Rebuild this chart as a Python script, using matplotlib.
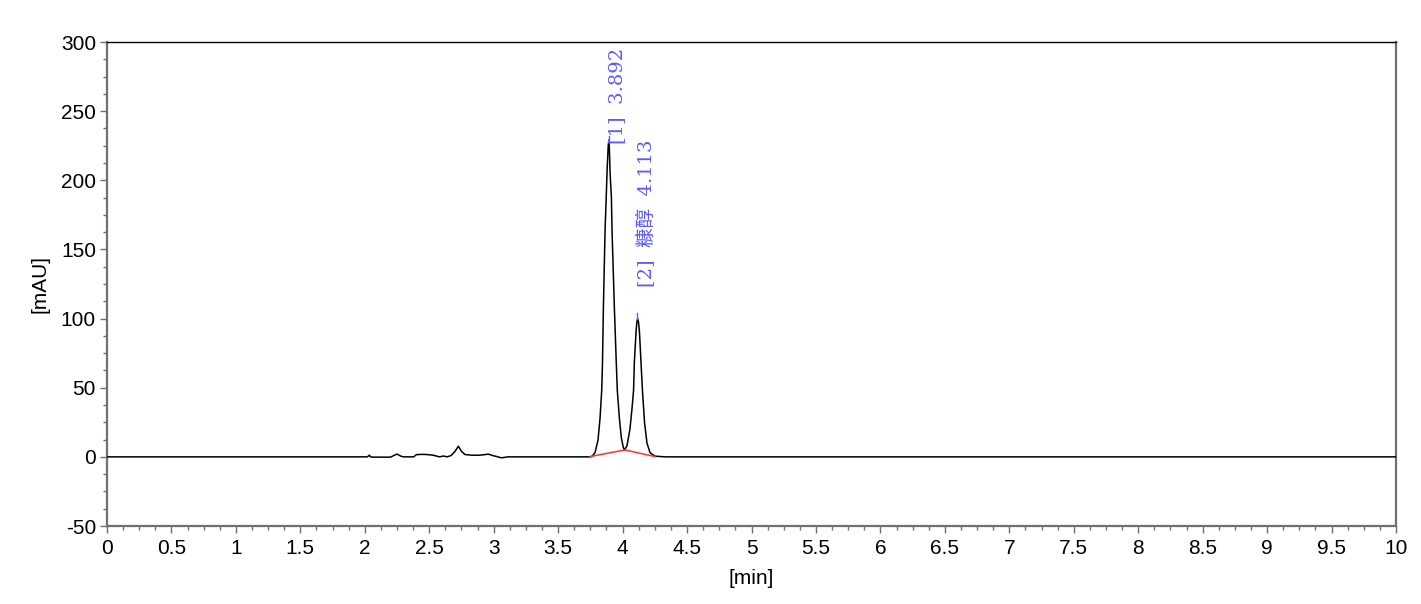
import matplotlib
matplotlib.use("Agg")
import matplotlib.pyplot as plt
from matplotlib.ticker import MultipleLocator

# ---- data ----
time_min = [0.0, 2.02, 2.035, 2.045, 2.06, 2.2, 2.23, 2.25, 2.28, 2.30, 2.38, 2.40,
            2.44, 2.48, 2.53, 2.58, 2.61, 2.64, 2.67, 2.70, 2.726, 2.75, 2.777,
            2.83, 2.89, 2.93, 2.958, 2.99, 3.02, 3.06, 3.11, 3.75, 3.763, 3.786,
            3.809, 3.825, 3.838, 3.844, 3.851, 3.864, 3.872, 3.880, 3.888, 3.892,
            3.897, 3.903, 3.913, 3.918, 3.936, 3.951, 3.959, 3.975, 3.990, 4.005,
            4.015, 4.034, 4.057, 4.073, 4.085, 4.091, 4.104, 4.110, 4.117, 4.124,
            4.131, 4.143, 4.154, 4.170, 4.189, 4.213, 4.251, 4.33, 10.0]
signal_mau = [0.0, 0.0, 1.2, 0.0, -0.2, -0.2, 1.2, 2.0, 0.5, 0.0, 0.0, 1.6,
              1.8, 1.7, 1.2, 0.0, 0.6, 0.0, 1.0, 4.0, 7.7, 4.0, 1.7,
              1.2, 1.2, 1.6, 2.0, 1.0, 0.3, -0.7, 0.0, 0.0, 0.4, 3.0,
              12.0, 28.0, 48.0, 68.0, 108.0, 164.0, 185.0, 208.0, 224.0, 228.0,
              224.0, 205.0, 188.0, 164.0, 108.0, 68.0, 48.0, 28.0, 14.0, 7.0,
              5.0, 8.0, 20.0, 35.0, 48.0, 68.0, 90.0, 97.0, 100.0, 97.0,
              90.0, 68.0, 48.0, 25.0, 10.0, 3.0, 0.5, 0.0, 0.0]

baseline_time = [3.747, 4.018, 4.251]
baseline_mau = [0.2, 5.0, 0.2]

peak_times = [3.892, 4.113]
peak_heights = [228.0, 100.0]
peak_labels = ["[1]  3.892", "[2]  糠醇  4.113"]

x_ticks = [0, 0.5, 1, 1.5, 2, 2.5, 3, 3.5, 4, 4.5, 5, 5.5, 6, 6.5, 7, 7.5, 8, 8.5, 9, 9.5, 10]
x_ticklabels = ["0", "0.5", "1", "1.5", "2", "2.5", "3", "3.5", "4", "4.5", "5",
                "5.5", "6", "6.5", "7", "7.5", "8", "8.5", "9", "9.5", "10"]
y_ticks = [-50, 0, 50, 100, 150, 200, 250, 300]
y_ticklabels = ["-50", "0", "50", "100", "150", "200", "250", "300"]

# ---- figure ----
plt.rcParams['font.family'] = ['Liberation Sans', 'DejaVu Sans']
plt.rcParams['axes.unicode_minus'] = False
fig = plt.figure(figsize=(14.21, 6.04), dpi=100)
ax = fig.add_axes([107/1421, 78/604, (1396-107)/1421, (526-42)/604])

ax.plot(time_min, signal_mau, color='black', lw=1.1, zorder=3)
ax.plot(baseline_time, baseline_mau, color='#ff3030', lw=1.1, zorder=4)

label_color = '#5a5aff'
# apex markers
for rt, h in zip(peak_times, peak_heights):
    ax.plot([rt, rt], [h, h + 4], color=label_color, lw=1.0, zorder=5)

offsets = [(6.0, -2.0), (6.5, 23.0)]
for rt, h, lab, off in zip(peak_times, peak_heights, peak_labels, offsets):
    ax.annotate(lab, xy=(rt, h), xytext=off, textcoords='offset points',
                rotation=90, ha='center', va='bottom', color=label_color,
                fontsize=14, family=['DejaVu Serif', 'Noto Sans CJK SC'],
                annotation_clip=False, zorder=6)

ax.set_xlim(0, 10)
ax.set_ylim(-50, 300)
ax.set_xticks(x_ticks)
ax.set_xticklabels(x_ticklabels)
ax.set_yticks(y_ticks)
ax.set_yticklabels(y_ticklabels)
ax.xaxis.set_minor_locator(MultipleLocator(0.125))
ax.yaxis.set_minor_locator(MultipleLocator(12.5))

ax.tick_params(axis='both', which='major', direction='out', length=5, width=1,
               color='#707070', labelsize=15, labelcolor='black', pad=3,
               top=False, right=False)
ax.tick_params(axis='both', which='minor', direction='out', length=3, width=1,
               color='#707070', top=False, right=False)
ax.tick_params(axis='x', which='major', pad=4)

for side in ['left', 'bottom', 'right']:
    ax.spines[side].set_color('#707070')
    ax.spines[side].set_linewidth(1.6)
ax.spines['top'].set_color('black')
ax.spines['top'].set_linewidth(1.0)

ax.set_xlabel('[min]', fontsize=15, labelpad=8)
ax.set_ylabel('[mAU]', fontsize=15, labelpad=8)

fig.savefig('out.png', dpi=100)
